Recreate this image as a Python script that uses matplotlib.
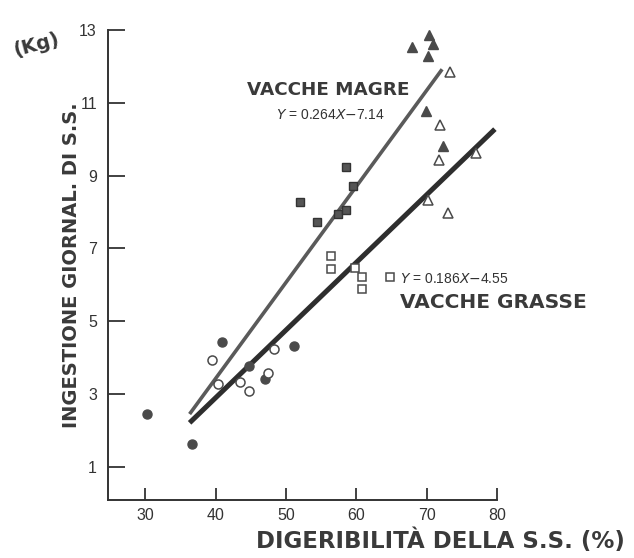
import matplotlib
matplotlib.use("Agg")
import matplotlib.pyplot as plt
import numpy as np

# ---- data ----
fc_x = [30.3, 36.7, 40.9, 44.8, 47.0, 51.2]          # filled circles
fc_y = [2.45, 1.62, 4.43, 3.77, 3.41, 4.30]
oc_x = [39.5, 40.4, 43.4, 44.8, 47.4, 48.3]          # open circles
oc_y = [3.94, 3.28, 3.33, 3.08, 3.58, 4.24]
fs_x = [52.0, 54.4, 57.4, 58.6, 59.5, 58.5]          # filled squares
fs_y = [8.26, 7.71, 7.93, 8.04, 8.70, 9.23]
os_x = [56.4, 56.4, 59.8, 60.8, 60.8]                # open squares
os_y = [6.80, 6.44, 6.47, 6.20, 5.87]
ft_x = [70.3, 70.9, 67.9, 70.2, 69.9, 72.3]          # filled triangles
ft_y = [12.86, 12.61, 12.53, 12.28, 10.77, 9.80]
ot_x = [73.3, 71.9, 71.7, 77.0, 70.2, 73.0]          # open triangles
ot_y = [11.84, 10.38, 9.42, 9.61, 8.32, 7.96]

magre_coef = (0.264, -7.14)
magre_range = [36.3, 72.2]
grasse_coef = (0.186, -4.55)
grasse_range = [36.3, 79.7]

x_ticks = [30, 40, 50, 60, 70, 80]
y_ticks = [1, 3, 5, 7, 9, 11, 13]

# ---- figure ----
fig = plt.figure(figsize=(6.34, 5.58), dpi=100)
ax = fig.add_axes([108/634, 1-500/558, (497-108)/634, (500-30)/558])
ax.set_xlim(24.7, 80)
ax.set_ylim(0.08, 13)

dark = "#4a4a4a"
line_col = "#333333"

# regression lines
xm = np.array(magre_range)
ax.plot(xm, magre_coef[0]*xm + magre_coef[1], color="#5a5a5a", lw=2.6, solid_capstyle="butt", zorder=2)
xg = np.array(grasse_range)
ax.plot(xg, grasse_coef[0]*xg + grasse_coef[1], color="#2e2e2e", lw=3.6, solid_capstyle="butt", zorder=2)

ms = 6.5
ax.plot(fc_x, fc_y, "o", ms=ms, mfc=dark, mec=dark, ls="none", zorder=3)
ax.plot(oc_x, oc_y, "o", ms=ms, mfc="white", mec=dark, mew=1.1, ls="none", zorder=3)
ax.plot(fs_x, fs_y, "s", ms=6, mfc="#555555", mec="#333333", mew=1.0, ls="none", zorder=3)
ax.plot(os_x, os_y, "s", ms=6, mfc="white", mec=dark, mew=1.1, ls="none", zorder=3)
ax.plot(ft_x, ft_y, "^", ms=7, mfc=dark, mec=dark, ls="none", zorder=3)
ax.plot(ot_x, ot_y, "^", ms=7, mfc="white", mec=dark, mew=1.1, ls="none", zorder=3)

# axes styling
for s in ["top", "right"]:
    ax.spines[s].set_visible(False)
for s in ["left", "bottom"]:
    ax.spines[s].set_color(line_col)
    ax.spines[s].set_linewidth(1.4)
ax.set_xticks(x_ticks)
ax.set_yticks(y_ticks)
ax.set_xticklabels([str(v) for v in x_ticks])
ax.set_yticklabels([str(v) for v in y_ticks])
ax.tick_params(axis="x", direction="in", length=9, width=1.3, color=line_col,
               labelsize=11.5, labelcolor="#333333", pad=6)
ax.tick_params(axis="y", direction="in", length=12, width=1.3, color=line_col,
               labelsize=11.5, labelcolor="#333333", pad=8)
for lab in ax.get_xticklabels() + ax.get_yticklabels():
    lab.set_fontfamily("Liberation Sans")

# annotations
hand = dict(fontfamily="DejaVu Sans", fontweight="bold", color="#3a3a3a")
fig.text(328/634, 1-90/558, "VACCHE MAGRE", ha="center", va="center", fontsize=13.2, **hand)
fig.text(330/634, 1-115/558, r"$Y$ = 0.264$X$$-$7.14", ha="center", va="center",
         fontsize=10, color="#333333", fontfamily="Liberation Sans")
ax.plot([64.8], [6.2], "s", ms=6, mfc="white", mec=dark, mew=1.1, zorder=3)
fig.text(400/634, 1-279/558, r"$Y$ = 0.186$X$$-$4.55", ha="left", va="center",
         fontsize=10, color="#333333", fontfamily="Liberation Sans")
fig.text(493/634, 1-302/558, "VACCHE GRASSE", ha="center", va="center", fontsize=14.5, **hand)

fig.text(72/634, 1-265/558, "INGESTIONE GIORNAL. DI S.S.", rotation=90, ha="center", va="center",
         fontsize=14, **hand)
fig.text(36/634, 1-45/558, "(Kg)", rotation=15, ha="center", va="center", fontsize=14, **hand)
fig.text(440/634, 1-541/558, "DIGERIBILITÀ DELLA S.S. (%)", ha="center", va="center",
         fontsize=16.5, **hand)

fig.savefig("out.png", dpi=100, facecolor="white")
